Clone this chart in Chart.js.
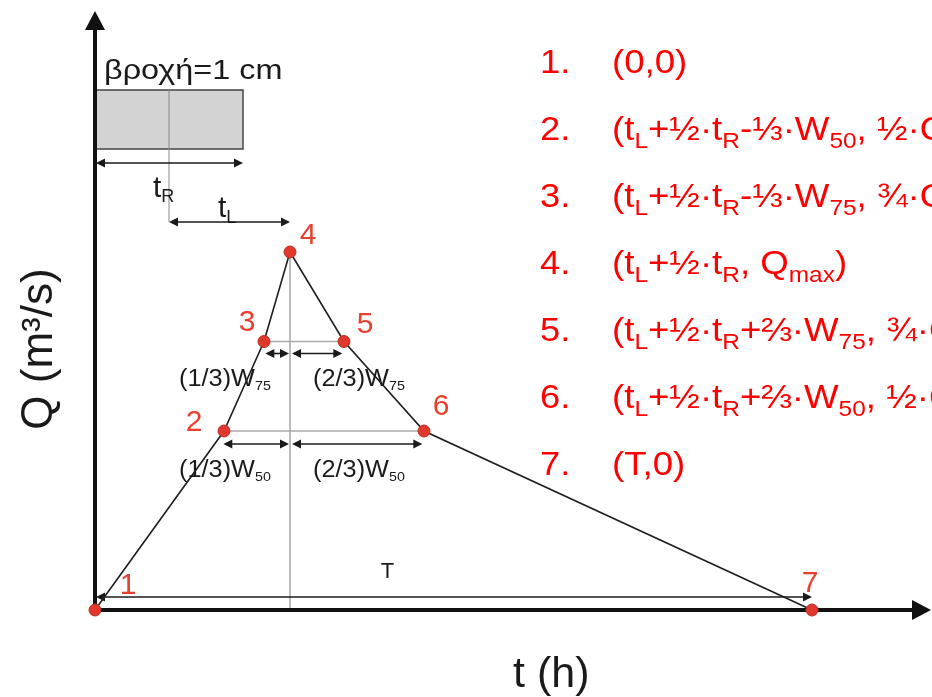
<!DOCTYPE html>
<html>
<head>
<meta charset="utf-8">
<script src="https://cdn.jsdelivr.net/npm/chart.js@4/dist/chart.umd.min.js"></script>
<style>
  body { margin: 0; background: #fff; }
  #wrap { width: 932px; height: 697px; position: relative; }
</style>
</head>
<body>
<div id="wrap"><canvas id="hydro"></canvas></div>
<script>
// σημεία του συνθετικού μοναδιαίου υδρογραφήματος
const pointLabels = ['1', '2', '3', '4', '5', '6', '7'];
const tValues = [0, 1.29, 1.69, 1.95, 2.49, 3.29, 7.17];
const qValues = [0, 0.5, 0.75, 1, 0.75, 0.5, 0];

// χρόνοι / πλάτη (ίδιες μονάδες με τον άξονα t)
const tR = 1.48;
const tL = 1.21;
const W50 = 2.0;
const W75 = 0.8;
const T = 7.17;

// λίστα συντεταγμένων δεξιά
const listNumbers = ['1.', '2.', '3.', '4.', '5.', '6.', '7.'];
const listTexts = [
    '(0,0)',
    '(t_{L}+½·t_{R}-⅓·W_{50}, ½·Q_{max})',
    '(t_{L}+½·t_{R}-⅓·W_{75}, ¾·Q_{max})',
    '(t_{L}+½·t_{R}, Q_{max})',
    '(t_{L}+½·t_{R}+⅔·W_{75}, ¾·Q_{max})',
    '(t_{L}+½·t_{R}+⅔·W_{50}, ½·Q_{max})',
    '(T,0)'
];

const FONT = '"Liberation Sans", Arial, sans-serif';

// κείμενο με δείκτες: "t_{L}" -> t με δείκτη L, sx = οριζόντια κλίμακα
function drawRich(ctx, str, x, y, size, subSize, subDy, align, sx) {
    sx = sx || 1;
    const parts = str.split(/_\{([^}]*)\}/);
    let total = 0;
    parts.forEach((p, i) => {
        ctx.font = (i % 2 ? subSize : size) + 'px ' + FONT;
        total += ctx.measureText(p).width;
    });
    ctx.save();
    ctx.translate(align === 'center' ? x - total * sx / 2 : x, y);
    ctx.scale(sx, 1);
    ctx.textAlign = 'left';
    ctx.textBaseline = 'alphabetic';
    let cx = 0;
    parts.forEach((p, i) => {
        const sub = i % 2 === 1;
        ctx.font = (sub ? subSize : size) + 'px ' + FONT;
        ctx.fillText(p, cx, sub ? subDy : 0);
        cx += ctx.measureText(p).width;
    });
    ctx.restore();
}

function arrowHead(ctx, x, y, dir, len, half) {
    ctx.beginPath();
    ctx.moveTo(x, y);
    ctx.lineTo(x - dir * len, y - half);
    ctx.lineTo(x - dir * len, y + half);
    ctx.closePath();
    ctx.fill();
}

function dimArrow(ctx, x1, x2, y) {
    ctx.save();
    ctx.strokeStyle = '#1a1a1a';
    ctx.fillStyle = '#1a1a1a';
    ctx.lineWidth = 1.6;
    ctx.beginPath();
    ctx.moveTo(x1 + 4, y);
    ctx.lineTo(x2 - 4, y);
    ctx.stroke();
    arrowHead(ctx, x1, y, -1, 9, 4.5);
    arrowHead(ctx, x2, y, 1, 9, 4.5);
    ctx.restore();
}

function hLine(ctx, x1, x2, y, color, w) {
    ctx.save();
    ctx.strokeStyle = color;
    ctx.lineWidth = w;
    ctx.beginPath();
    ctx.moveTo(x1, y);
    ctx.lineTo(x2, y);
    ctx.stroke();
    ctx.restore();
}

function vLine(ctx, x, y1, y2, color, w) {
    ctx.save();
    ctx.strokeStyle = color;
    ctx.lineWidth = w;
    ctx.beginPath();
    ctx.moveTo(x, y1);
    ctx.lineTo(x, y2);
    ctx.stroke();
    ctx.restore();
}

// θέσεις αριθμών σημείων σε σχέση με το σημείο (px)
const labelOffsets = [[33, -24], [-30, -8], [-17, -19], [18, -16], [21, -17], [17, -24], [-2, -26]];

const diagramPlugin = {
    id: 'diagram',
    beforeDatasetsDraw(chart) {
        const ctx = chart.ctx;
        const xs = chart.scales.x, ys = chart.scales.y;
        const px = v => xs.getPixelForValue(v);
        const py = v => ys.getPixelForValue(v);
        const x0 = px(0), y0 = py(0);
        const peak = tL + tR / 2;

        // βροχή
        ctx.save();
        ctx.fillStyle = '#d3d3d3';
        ctx.strokeStyle = '#444';
        ctx.lineWidth = 1.5;
        ctx.fillRect(x0, 90, px(tR) - x0, 59);
        ctx.strokeRect(x0, 90, px(tR) - x0, 59);
        ctx.restore();
        vLine(ctx, px(tR / 2), 90, 222, '#888', 1);
        dimArrow(ctx, x0 + 1, px(tR), 163);
        dimArrow(ctx, px(tR / 2), px(peak), 222);

        // βοηθητικές γραμμές
        vLine(ctx, px(peak), py(1), y0, '#555', 0.8);
        hLine(ctx, px(peak - W75 / 3), px(peak + 2 * W75 / 3), py(0.75), '#aaa', 1.5);
        hLine(ctx, px(peak - W50 / 3), px(peak + 2 * W50 / 3), py(0.5), '#aaa', 1.5);
        const a75 = py(0.75) + 12, a50 = py(0.5) + 13;
        dimArrow(ctx, px(peak - W75 / 3) + 2, px(peak) - 1, a75);
        dimArrow(ctx, px(peak) + 2, px(peak + 2 * W75 / 3) - 1, a75);
        dimArrow(ctx, px(peak - W50 / 3), px(peak) - 1, a50);
        dimArrow(ctx, px(peak) + 2, px(peak + 2 * W50 / 3) - 1, a50);
        dimArrow(ctx, x0 + 1, px(T), y0 - 13);

        // άξονες
        ctx.save();
        ctx.strokeStyle = '#111';
        ctx.fillStyle = '#111';
        ctx.lineWidth = 4;
        ctx.beginPath();
        ctx.moveTo(x0, y0 + 2);
        ctx.lineTo(x0, 28);
        ctx.moveTo(x0 - 2, y0);
        ctx.lineTo(914, y0);
        ctx.stroke();
        ctx.beginPath();
        ctx.moveTo(x0 - 10, 30); ctx.lineTo(x0 + 10, 30); ctx.lineTo(x0, 11); ctx.closePath();
        ctx.fill();
        ctx.beginPath();
        ctx.moveTo(912, y0 - 10); ctx.lineTo(912, y0 + 10); ctx.lineTo(931, y0); ctx.closePath();
        ctx.fill();
        ctx.restore();
    },
    afterDatasetsDraw(chart) {
        const ctx = chart.ctx;
        const xs = chart.scales.x, ys = chart.scales.y;
        const px = v => xs.getPixelForValue(v);
        const py = v => ys.getPixelForValue(v);
        const peak = tL + tR / 2;

        ctx.save();
        // αριθμοί σημείων
        ctx.fillStyle = '#e8402f';
        ctx.font = '30px ' + FONT;
        ctx.textAlign = 'center';
        ctx.textBaseline = 'middle';
        pointLabels.forEach((l, i) => {
            ctx.fillText(l, px(tValues[i]) + labelOffsets[i][0], py(qValues[i]) + labelOffsets[i][1]);
        });

        // ετικέτες διαστάσεων
        ctx.fillStyle = '#1a1a1a';
        drawRich(ctx, '(1/3)W_{75}', px(peak) - 65, py(0.75) + 44, 23, 13, 4, 'center', 1.1);
        drawRich(ctx, '(2/3)W_{75}', px(peak) + 69, py(0.75) + 44, 23, 13, 4, 'center', 1.1);
        drawRich(ctx, '(1/3)W_{50}', px(peak) - 65, py(0.5) + 46, 23, 13, 4, 'center', 1.1);
        drawRich(ctx, '(2/3)W_{50}', px(peak) + 69, py(0.5) + 46, 23, 13, 4, 'center', 1.1);
        drawRich(ctx, 'T', px(T / 2) - 66, 578, 22, 13, 4, 'center');
        drawRich(ctx, 't_{R}', 153, 197, 30, 18, 5, 'left');
        drawRich(ctx, 't_{L}', 218, 217, 30, 18, 6, 'left');
        drawRich(ctx, 'βροχή=1 cm', 104, 79, 27, 16, 4, 'left', 1.2);

        // τίτλοι αξόνων
        drawRich(ctx, 't (h)', 513, 687, 43, 26, 4, 'left');
        ctx.translate(52, 349);
        ctx.rotate(-Math.PI / 2);
        drawRich(ctx, 'Q (m³/s)', 0, 0, 44, 26, 4, 'center');
        ctx.restore();

        // λίστα συντεταγμένων
        ctx.save();
        ctx.fillStyle = '#ff0000';
        listNumbers.forEach((n, i) => {
            const by = 73 + i * 67;
            drawRich(ctx, n, 540, by, 33, 22, 8, 'left', 1.1);
            drawRich(ctx, listTexts[i], 612, by, 33, 22, 8, 'left', 1.11);
        });
        ctx.restore();
    }
};

const ctx = document.getElementById('hydro').getContext('2d');
new Chart(ctx, {
    type: 'scatter',
    data: {
        datasets: [{
            data: tValues.map((t, i) => ({ x: t, y: qValues[i] })),
            showLine: true,
            clip: false,
            borderColor: '#1e1e1e',
            borderWidth: 1.6,
            tension: 0,
            pointRadius: 6,
            pointBackgroundColor: '#e2372c',
            pointBorderColor: '#b83026',
            pointBorderWidth: 1
        }]
    },
    options: {
        responsive: true,
        maintainAspectRatio: false,
        animation: false,
        layout: { padding: { left: 95, right: 0, top: 12, bottom: 87 } },
        scales: {
            x: { type: 'linear', min: 0, max: 8.30, display: false },
            y: { type: 'linear', min: 0, max: 1.6704, display: false }
        },
        plugins: { legend: { display: false }, tooltip: { enabled: false } }
    },
    plugins: [diagramPlugin]
});
</script>
</body>
</html>
